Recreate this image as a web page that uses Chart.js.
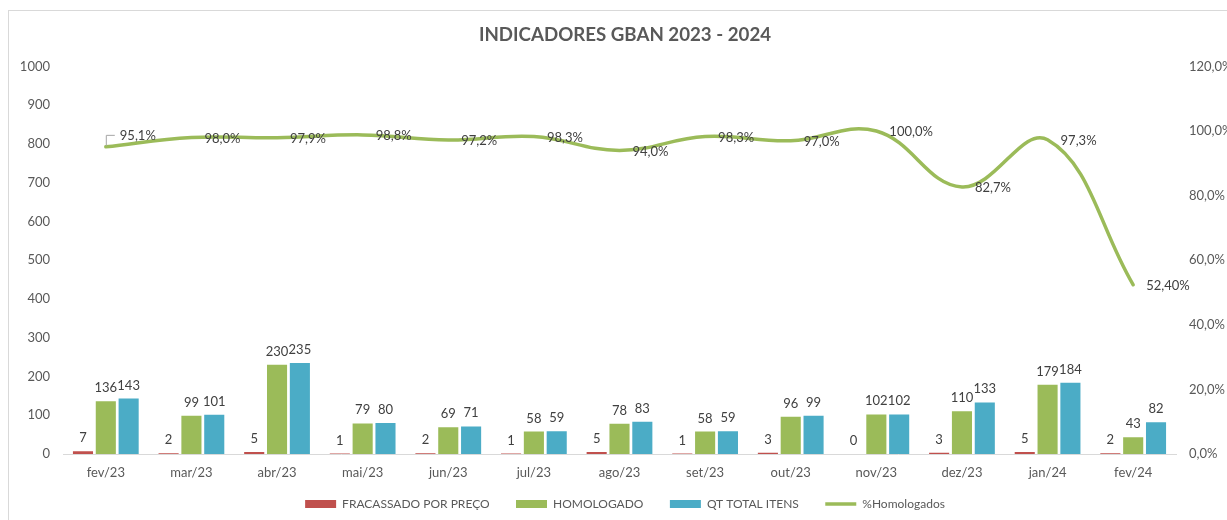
<!DOCTYPE html>
<html>
<head>
<meta charset="utf-8">
<script src="https://cdn.jsdelivr.net/npm/chart.js@4"></script>
<style>
  html, body { margin:0; padding:0; background:#fff; overflow:hidden; width:1227px; height:520px; }
  #frame { position:absolute; left:8px; top:10px; width:1400px; height:600px; border:1px solid #d9d9d9; box-sizing:border-box; }
  #wrap { position:absolute; left:0; top:0; width:1250px; height:520px; }
</style>
</head>
<body>
<div id="frame"></div>
<div id="wrap"><canvas id="c" width="1250" height="520"></canvas></div>
<script>
const categories = ['fev/23','mar/23','abr/23','mai/23','jun/23','jul/23','ago/23','set/23','out/23','nov/23','dez/23','jan/24','fev/24'];
const fracassado = [7, 2, 5, 1, 2, 1, 5, 1, 3, 0, 3, 5, 2];
const homologado = [136, 99, 230, 79, 69, 58, 78, 58, 96, 102, 110, 179, 43];
const qtTotal = [143, 101, 235, 80, 71, 59, 83, 59, 99, 102, 133, 184, 82];
const pctHomologados = [0.951, 0.980, 0.979, 0.988, 0.972, 0.983, 0.940, 0.983, 0.970, 1.000, 0.827, 0.973, 0.524];
const pctLabels = ['95,1%','98,0%','97,9%','98,8%','97,2%','98,3%','94,0%','98,3%','97,0%','100,0%','82,7%','97,3%','52,40%'];
const seriesNames = ['FRACASSADO POR PREÇO','HOMOLOGADO','QT TOTAL ITENS','%Homologados'];
const titleText = 'INDICADORES GBAN 2023 - 2024';

const FONT = 'Lato, "Liberation Sans", sans-serif';
const TXT = '#595959';
const LBL = '#404040';

const labelPlugin = {
  id: 'dataLabels',
  afterDatasetsDraw(chart) {
    const ctx = chart.ctx;
    ctx.save();
    ctx.font = '13px ' + FONT;
    ctx.fillStyle = LBL;
    const barSets = [fracassado, homologado, qtTotal];
    for (let d = 0; d < 3; d++) {
      const meta = chart.getDatasetMeta(d);
      meta.data.forEach((el, i) => {
        ctx.textAlign = 'center';
        ctx.textBaseline = 'alphabetic';
        ctx.fillText(String(barSets[d][i]), el.x, el.y - 9);
      });
    }
    const lm = chart.getDatasetMeta(3);
    lm.data.forEach((el, i) => {
      ctx.textAlign = 'left';
      ctx.textBaseline = 'middle';
      if (i === 0) {
        ctx.strokeStyle = '#a6a6a6';
        ctx.lineWidth = 1;
        ctx.beginPath();
        ctx.moveTo(el.x + 0.5, el.y - 1);
        ctx.lineTo(el.x + 0.5, el.y - 11.5);
        ctx.lineTo(el.x + 9, el.y - 11.5);
        ctx.stroke();
        ctx.fillText(pctLabels[i], el.x + 14, el.y - 11);
      } else {
        ctx.fillText(pctLabels[i], el.x + 13, el.y + 1);
      }
    });
    ctx.restore();
  }
};

new Chart(document.getElementById('c'), {
  data: {
    labels: categories,
    datasets: [
      { type:'bar', label: seriesNames[0], data: fracassado, backgroundColor:'#C0504D', yAxisID:'y', categoryPercentage:0.8, barPercentage:0.88 },
      { type:'bar', label: seriesNames[1], data: homologado, backgroundColor:'#9BBB59', yAxisID:'y', categoryPercentage:0.8, barPercentage:0.88 },
      { type:'bar', label: seriesNames[2], data: qtTotal, backgroundColor:'#4BACC6', yAxisID:'y', categoryPercentage:0.8, barPercentage:0.88 },
      { type:'line', label: seriesNames[3], data: pctHomologados, borderColor:'#9BBB59', backgroundColor:'#9BBB59', borderWidth:3.5, pointRadius:0, tension:0.4, yAxisID:'y1', borderCapStyle:'round', borderJoinStyle:'round', clip:false }
    ]
  },
  options: {
    responsive:false,
    animation:false,
    layout:{ padding:0 },
    plugins:{
      title:{ display:true, text:titleText, color:TXT, font:{ family:FONT, size:18.7, weight:'bold' }, padding:{ top:24, bottom:20 } },
      legend:{
        position:'bottom',
        labels:{
          color:TXT, font:{ family:FONT, size:12 }, padding:8,
          usePointStyle:true, pointStyleWidth:31, boxHeight:8,
          generateLabels(chart) {
            const items = Chart.defaults.plugins.legend.labels.generateLabels(chart);
            items.forEach((it, k) => {
              if (k < items.length - 1) it.text = it.text + '      ';
              if (it.datasetIndex === 3) { it.pointStyle = 'line'; it.lineWidth = 3.5; it.strokeStyle = '#9BBB59'; }
              else { it.pointStyle = 'rect'; it.lineWidth = 0; }
            });
            return items;
          }
        }
      },
      tooltip:{ enabled:false }
    },
    scales:{
      x:{
        grid:{ display:false, drawTicks:false },
        border:{ display:true, color:'#d9d9d9', width:1 },
        ticks:{ color:TXT, font:{ family:FONT, size:13 }, padding:11, maxRotation:0 },
        afterFit(s){ s.height = 36; }
      },
      y:{
        position:'left', min:0, max:1000,
        grid:{ display:false, drawTicks:false },
        border:{ display:false },
        ticks:{ stepSize:100, color:TXT, font:{ family:FONT, size:13 }, padding:13,
          callback(v){ return String(v); } },
        afterFit(s){ s.width = 63; }
      },
      y1:{
        position:'right', min:0, max:1.2,
        grid:{ display:false, drawTicks:false },
        border:{ display:false },
        ticks:{ stepSize:0.2, color:TXT, font:{ family:FONT, size:13 }, padding:13,
          callback(v){ return (v*100).toFixed(1).replace('.', ',') + '%'; } },
        afterFit(s){ s.width = 1250 - 1176; }
      }
    }
  },
  plugins:[labelPlugin]
});
</script>
</body>
</html>
